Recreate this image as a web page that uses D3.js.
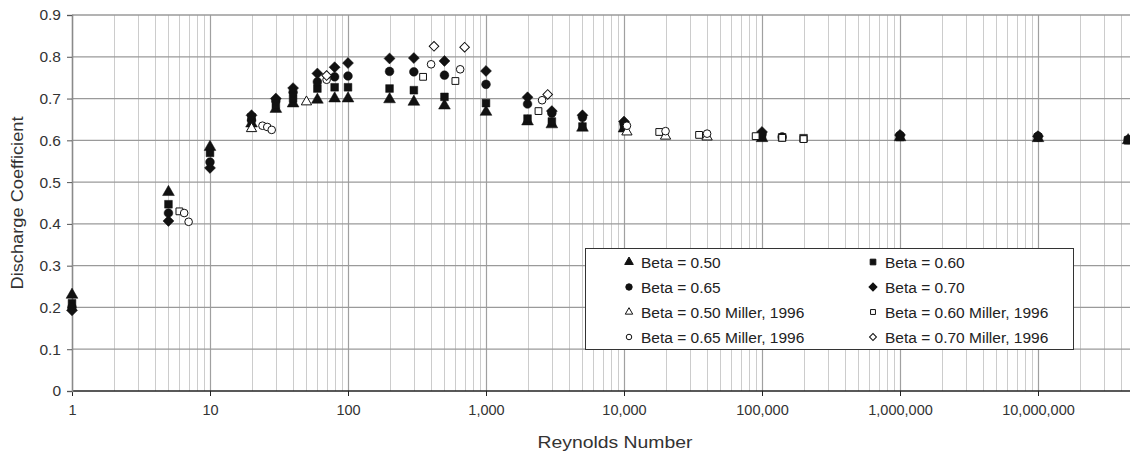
<!DOCTYPE html>
<html lang="en">
  <head>
    <meta charset="UTF-8" />
    <title>Discharge Coefficient vs Reynolds Number</title>
    <script src="https://d3js.org/d3.v7.min.js"></script>
    <style>
      body { margin: 0; background: #fff; }
      svg { display: block; font-family: "Liberation Sans", Arial, sans-serif; }
      .tick text { fill: #333; }
    </style>
  </head>
  <body>
    <script>
      // Data (Reynolds number, discharge coefficient)
      const beta50Re = [1, 5, 10, 20, 30, 40, 60, 80, 100, 200, 300, 500, 1000, 2000, 3000, 5000, 10000, 100000, 1e6, 1e7, 4.5e7];
      const beta50Cd = [0.23, 0.476, 0.584, 0.64, 0.675, 0.688, 0.697, 0.70, 0.70, 0.698, 0.692, 0.683, 0.668, 0.645, 0.638, 0.63, 0.628, 0.605, 0.607, 0.605, 0.60];

      const beta60Re = [1, 5, 10, 20, 30, 40, 60, 80, 100, 200, 300, 500, 1000, 2000, 3000, 5000, 10000, 100000, 140000, 200000, 1e6, 1e7, 4.5e7];
      const beta60Cd = [0.21, 0.447, 0.57, 0.655, 0.685, 0.70, 0.724, 0.727, 0.727, 0.724, 0.72, 0.704, 0.689, 0.652, 0.645, 0.633, 0.635, 0.61, 0.607, 0.605, 0.608, 0.607, 0.60];

      const beta65Re = [1, 5, 10, 20, 30, 40, 60, 80, 100, 200, 300, 500, 1000, 2000, 3000, 5000, 10000, 100000, 140000, 1e6, 1e7, 4.5e7];
      const beta65Cd = [0.20, 0.426, 0.548, 0.648, 0.695, 0.715, 0.74, 0.752, 0.754, 0.765, 0.764, 0.756, 0.734, 0.687, 0.665, 0.655, 0.64, 0.615, 0.608, 0.612, 0.61, 0.602];

      const beta70Re = [1, 5, 10, 20, 30, 40, 60, 80, 100, 200, 300, 500, 1000, 2000, 3000, 5000, 10000, 100000, 1e6, 1e7];
      const beta70Cd = [0.193, 0.407, 0.534, 0.66, 0.70, 0.725, 0.76, 0.775, 0.785, 0.796, 0.797, 0.79, 0.766, 0.703, 0.67, 0.66, 0.645, 0.62, 0.613, 0.61];

      const miller50Re = [20, 50, 10500, 20000, 40000];
      const miller50Cd = [0.628, 0.692, 0.62, 0.61, 0.608];

      const miller60Re = [6, 350, 600, 2400, 18000, 35000, 90000, 140000, 200000];
      const miller60Cd = [0.43, 0.752, 0.742, 0.67, 0.62, 0.613, 0.61, 0.606, 0.603];

      const miller65Re = [6.5, 7, 24, 26, 28, 70, 400, 650, 2550, 10500, 20000, 40000];
      const miller65Cd = [0.426, 0.405, 0.635, 0.632, 0.625, 0.745, 0.782, 0.77, 0.696, 0.635, 0.622, 0.616];

      const miller70Re = [70, 420, 700, 2800];
      const miller70Cd = [0.755, 0.825, 0.823, 0.71];

      const xTickValues = [1, 10, 100, 1000, 10000, 100000, 1000000, 10000000];
      const yTickValues = [0, 0.1, 0.2, 0.3, 0.4, 0.5, 0.6, 0.7, 0.8, 0.9];

      // diamonds in this chart are squares turned 45 degrees
      const series = [
        { name: "Beta = 0.50", re: beta50Re, cd: beta50Cd, shape: d3.symbolTriangle, rot: 0, fill: true },
        { name: "Beta = 0.60", re: beta60Re, cd: beta60Cd, shape: d3.symbolSquare, rot: 0, fill: true },
        { name: "Beta = 0.65", re: beta65Re, cd: beta65Cd, shape: d3.symbolCircle, rot: 0, fill: true },
        { name: "Beta = 0.70", re: beta70Re, cd: beta70Cd, shape: d3.symbolSquare, rot: 45, fill: true },
        { name: "Beta = 0.50 Miller, 1996", re: miller50Re, cd: miller50Cd, shape: d3.symbolTriangle, rot: 0, fill: false },
        { name: "Beta = 0.60 Miller, 1996", re: miller60Re, cd: miller60Cd, shape: d3.symbolSquare, rot: 0, fill: false },
        { name: "Beta = 0.65 Miller, 1996", re: miller65Re, cd: miller65Cd, shape: d3.symbolCircle, rot: 0, fill: false },
        { name: "Beta = 0.70 Miller, 1996", re: miller70Re, cd: miller70Cd, shape: d3.symbolSquare, rot: 45, fill: false }
      ];

      const width = 1130, height = 455;
      const plotLeft = 72, plotTop = 15, plotBottom = 391;

      const svg = d3.select("body").append("svg")
        .attr("width", width)
        .attr("height", height);

      // one decade is ~138px; the right part of the axis is cut by the frame
      const x = d3.scaleLog().domain([1, 1e8]).range([plotLeft, plotLeft + 138 * 8]);
      const y = d3.scaleLinear().domain([0, 0.9]).range([plotBottom, plotTop]);

      // minor vertical grid (2..9 in each decade)
      const minor = [];
      xTickValues.forEach(dec => d3.range(2, 10).forEach(k => minor.push(dec * k)));
      svg.append("g").selectAll("line").data(minor.filter(d => x(d) <= width)).enter().append("line")
        .attr("x1", d => Math.round(x(d)) + 0.5).attr("x2", d => Math.round(x(d)) + 0.5)
        .attr("y1", plotTop).attr("y2", plotBottom)
        .attr("stroke", "#cccccc").attr("stroke-width", 1);

      // major vertical grid
      svg.append("g").selectAll("line").data(xTickValues.slice(1)).enter().append("line")
        .attr("x1", d => Math.round(x(d)) + 0.5).attr("x2", d => Math.round(x(d)) + 0.5)
        .attr("y1", plotTop).attr("y2", plotBottom)
        .attr("stroke", "#a0a0a0").attr("stroke-width", 1.2);

      // horizontal grid
      svg.append("g").selectAll("line").data(yTickValues.slice(1)).enter().append("line")
        .attr("x1", plotLeft).attr("x2", width)
        .attr("y1", d => y(d)).attr("y2", d => y(d))
        .attr("stroke", "#9a9a9a").attr("stroke-width", 1.3);

      // axes
      const xAxis = svg.append("g")
        .attr("transform", `translate(0,${plotBottom})`)
        .call(d3.axisBottom(x).tickValues(xTickValues).tickFormat(d3.format(",")).tickSize(5).tickPadding(9));
      xAxis.select(".domain").attr("d", `M${plotLeft},0H${width}`).attr("stroke", "#222").attr("stroke-width", 1.3);
      xAxis.selectAll(".tick line").attr("stroke", "#222");
      xAxis.selectAll(".tick text").attr("font-size", 14.5);

      const yAxis = svg.append("g")
        .attr("transform", `translate(${plotLeft},0)`)
        .call(d3.axisLeft(y).tickValues(yTickValues)
          .tickFormat(d => d === 0 ? "0" : d3.format(".1f")(d)).tickSize(5).tickPadding(6));
      yAxis.select(".domain").attr("stroke", "#8a8a8a").attr("stroke-width", 1.6);
      yAxis.selectAll(".tick line").attr("stroke", "#555");
      yAxis.selectAll(".tick text").attr("font-size", 15.5);

      // axis titles
      svg.append("text")
        .attr("x", 615).attr("y", 448)
        .attr("text-anchor", "middle")
        .attr("font-size", 17).attr("fill", "#333")
        .attr("textLength", 155).attr("lengthAdjust", "spacingAndGlyphs")
        .text("Reynolds Number");
      svg.append("text")
        .attr("transform", "translate(23,203) rotate(-90)")
        .attr("text-anchor", "middle")
        .attr("font-size", 16).attr("fill", "#333")
        .attr("textLength", 173).attr("lengthAdjust", "spacingAndGlyphs")
        .text("Discharge Coefficient");

      // points
      series.forEach(s => {
        const pts = s.re.map((r, i) => ({ re: r, cd: s.cd[i] }));
        svg.append("g").selectAll("path").data(pts).enter().append("path")
          .attr("transform", d => `translate(${x(d.re)},${y(d.cd)}) rotate(${s.rot})`)
          .attr("d", d3.symbol().type(s.shape).size(s.fill ? 60 : 46))
          .attr("fill", s.fill ? "#111" : "#fff")
          .attr("stroke", "#111")
          .attr("stroke-width", s.fill ? 0.5 : 1);
      });

      // legend
      const legend = svg.append("g");
      legend.append("rect")
        .attr("x", 585.5).attr("y", 248.5)
        .attr("width", 488).attr("height", 101)
        .attr("fill", "#fff").attr("stroke", "#333").attr("stroke-width", 1);

      series.forEach((s, i) => {
        const col = i % 2, row = Math.floor(i / 2);
        const lx = col === 0 ? 629 : 873;
        const ly = 262 + row * 25;
        legend.append("path")
          .attr("transform", `translate(${lx},${ly}) rotate(${s.rot})`)
          .attr("d", d3.symbol().type(s.shape).size(s.fill ? 32 : 24))
          .attr("fill", s.fill ? "#111" : "#fff")
          .attr("stroke", "#111")
          .attr("stroke-width", 1);
        legend.append("text")
          .attr("x", lx + 12).attr("y", ly + 5.5)
          .attr("font-size", 15.5).attr("fill", "#222")
          .text(s.name);
      });
    </script>
  </body>
</html>
